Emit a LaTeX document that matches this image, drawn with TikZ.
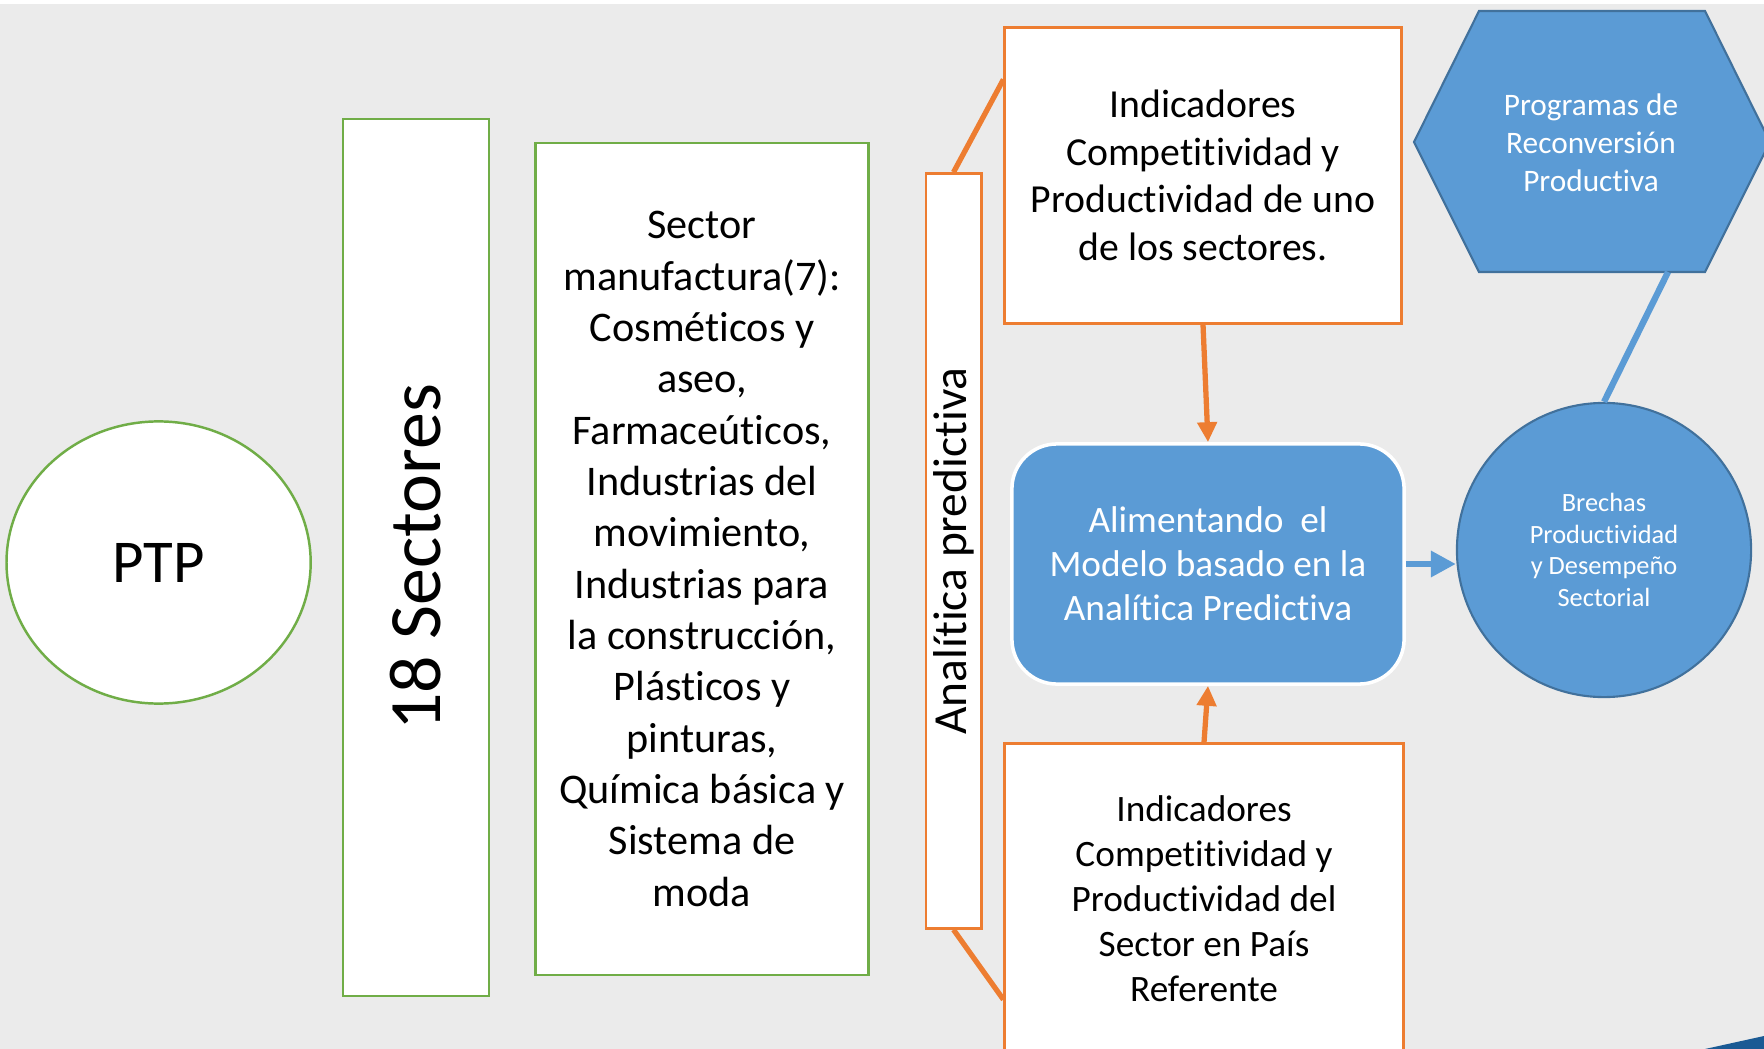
\documentclass[tikz,border=0pt]{standalone}
\usepackage{fontspec}
\setmainfont[Ligatures=NoCommon]{Carlito}
\usetikzlibrary{arrows.meta,shapes.geometric}

\definecolor{fondo}{HTML}{EBEBEB}
\definecolor{verde}{HTML}{70AD47}
\definecolor{naranja}{HTML}{ED7D31}
\definecolor{azul}{HTML}{5B9BD5}
\definecolor{azulosc}{HTML}{41719C}
\definecolor{azulesq}{HTML}{1A5A94}

\begin{document}
\begin{tikzpicture}[x=0.01cm,y=-0.01cm,
	cajaverde/.style={draw=verde,line width=0.7pt,fill=white,inner sep=0pt,align=center},
	cajanaranja/.style={draw=naranja,line width=0.85pt,fill=white,inner sep=0pt,align=center},
	unionnar/.style={draw=naranja,line width=1.5pt},
	flechanar/.style={draw=naranja,line width=1.5pt,-{Triangle[width=0.19cm,length=0.2cm]}},
	flechaazul/.style={draw=azul,line width=1.8pt,-{Triangle[width=0.25cm,length=0.25cm]}}]

	\clip (0,0) rectangle (1764,1049);
	\fill[fondo] (0,0) rectangle (1764,1049);
	\fill[white] (0,0) rectangle (1764,4);
	\fill[azulesq] (1705,1049) -- (1764,1036) -- (1764,1049) -- cycle;

	\node[cajaverde,ellipse,minimum width=3.04cm,minimum height=2.82cm,
		font={\fontsize{17.3}{20}\selectfont}] (ptp) at (158.6,562.5) {PTP};
	\node[cajaverde,rotate=90,minimum width=8.77cm,minimum height=1.46cm,
		font={\fontsize{21}{25}\selectfont}] (sect) at (416,557.5) {18 Sectores};
	\node[cajaverde,minimum width=3.33cm,minimum height=8.31cm,
		font={\fontsize{12}{14.6}\selectfont}] (manuf) at (702,559)
		{Sector\\manufactura(7):\\Cosméticos y\\aseo,\\Farmaceúticos,\\Industrias del\\movimiento,\\Industrias para\\la construcción,\\Plásticos y\\pinturas,\\Química básica y\\Sistema de\\moda};

	\node[cajanaranja,rotate=90,minimum width=7.54cm,minimum height=0.55cm,
		font={\fontsize{13.5}{16}\selectfont}] (anal) at (953.5,551) {Analítica predictiva};
	\node[cajanaranja,minimum width=3.96cm,minimum height=2.95cm,
		font={\fontsize{11.3}{13.5}\selectfont}] (ind1) at (1203,175.5)
		{Indicadores\\Competitividad y\\Productividad de uno\\de los sectores.};
	\node[cajanaranja,minimum width=3.98cm,minimum height=3.10cm,
		font={\fontsize{10.6}{12.8}\selectfont}] (ind2) at (1204,899)
		{Indicadores\\Competitividad y\\Productividad del\\Sector en País\\Referente};

	\node[fill=azul,draw=white,line width=1pt,rounded corners=0.45cm,minimum width=3.92cm,
		minimum height=2.4cm,align=center,text=white,inner sep=0pt,
		font={\fontsize{10.6}{12.5}\selectfont}] (model) at (1208,564)
		{Alimentando~ el\\Modelo basado en la\\Analítica Predictiva};

	\filldraw[fill=azul,draw=azulosc,line width=0.6pt]
		(1414,142) -- (1479,11) -- (1705,11) -- (1770,142) -- (1705,272) -- (1479,272) -- cycle;
	\coordinate (hexb) at (1668,272);
	\node[align=center,text=white,font={\fontsize{8.9}{10.8}\selectfont}] (prog) at (1591,143)
		{Programas de\\Reconversión\\Productiva};

	\node[circle,fill=azul,draw=azulosc,line width=0.6pt,minimum size=2.94cm,align=center,
		text=white,inner sep=0pt,font={\fontsize{7.5}{9}\selectfont}] (brechas) at (1604,550)
		{Brechas\\Productividad\\y Desempeño\\Sectorial};

	\draw[unionnar] (anal.east) -- ([yshift=-0.53cm]ind1.north west);
	\draw[unionnar] (anal.west) -- ([yshift=-2.57cm]ind2.north west);
	\draw[flechanar] (ind1.south) -- (model.north);
	\draw[flechanar] (ind2.north) -- (model.south);
	\draw[flechaazul] (model.east) -- (model.east -| brechas.west);
	\draw[draw=azul,line width=1.8pt] (hexb) -- (brechas.north);

\end{tikzpicture}
\end{document}
